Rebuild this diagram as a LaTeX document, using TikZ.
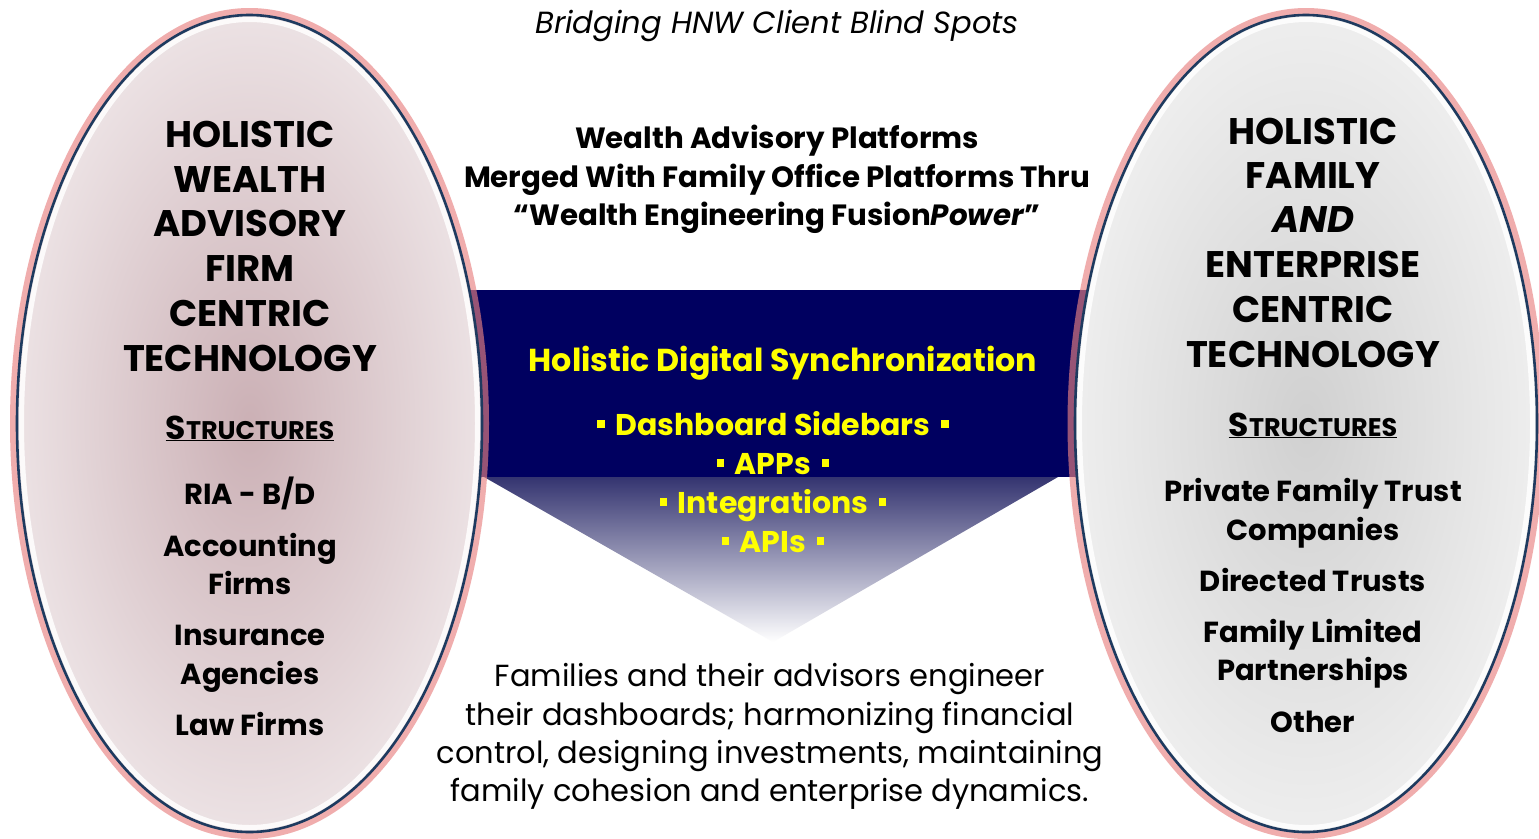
\documentclass[tikz,border=0pt]{standalone}
\usepackage{fontspec}
\setmainfont{Poppins}
\definecolor{bandnavy}{RGB}{0,0,96}
\definecolor{tritop}{RGB}{52,52,112}
\definecolor{rimblue}{RGB}{30,58,95}
\definecolor{glowpink}{RGB}{232,130,130}
\definecolor{pinkin}{RGB}{203,176,181}
\definecolor{pinkout}{RGB}{236,226,228}
\definecolor{grayin}{RGB}{208,208,208}
\definecolor{grayout}{RGB}{238,238,238}
\definecolor{syellow}{RGB}{255,255,0}
\newcommand{\sqb}{\raisebox{0.24em}{\rule{0.25em}{0.25em}}}
\newcommand{\fakesc}[1]{{\fontsize{33}{33}\selectfont S}{\fontsize{25.5}{25.5}\selectfont #1}}
\tikzset{
  txt/.style={inner sep=0pt, anchor=base, align=center},
  head/.style={txt, font=\fontsize{37}{37}\selectfont\bfseries},
  item/.style={txt, font=\fontsize{29}{29}\selectfont\bfseries},
  mid/.style={txt, font=\fontsize{29.3}{29.3}\selectfont\bfseries},
  ylw/.style={txt, text=syellow, font=\fontsize{30}{30}\selectfont\bfseries},
  body/.style={txt, font=\fontsize{30.5}{30.5}\selectfont},
  glowline/.style={draw=glowpink, line width=7pt, opacity=0.65},
  rimline/.style={draw=white, line width=5pt, opacity=0.85},
  outline/.style={draw=rimblue, line width=2.6pt}
}
\begin{document}
\begin{tikzpicture}[x=1pt,y=-1pt]
\useasboundingbox[fill=white] (0,0) rectangle (1539,838);
% central band and triangle
\fill[bandnavy] (465,290) rectangle (1090,477);
\shade[top color=tritop, bottom color=white] (484,477) -- (1058,477) -- (773,642) -- cycle;
% left ellipse
\coordinate (LC) at (249.5,423.5);
\draw[glowline] (LC) ellipse [x radius=236pt, y radius=412pt];
\shade[inner color=pinkin, outer color=pinkout] (LC) ellipse [x radius=232.5pt, y radius=408.5pt];
\draw[rimline] (LC) ellipse [x radius=228pt, y radius=404pt];
\draw[outline] (LC) ellipse [x radius=232.5pt, y radius=408.5pt];
% right ellipse
\coordinate (RC) at (1306,423.5);
\draw[glowline] (RC) ellipse [x radius=235pt, y radius=412pt];
\shade[inner color=grayin, outer color=grayout] (RC) ellipse [x radius=231pt, y radius=408.5pt];
\draw[rimline] (RC) ellipse [x radius=226.5pt, y radius=404pt];
\draw[outline] (RC) ellipse [x radius=231pt, y radius=408.5pt];
% title
\node[txt, font=\fontsize{30.6}{30.6}\selectfont\itshape] (title) at (777,33) {Bridging HNW Client Blind Spots};
% left texts
\foreach \t/\y [count=\i] in {HOLISTIC/147,WEALTH/192,ADVISORY/236,FIRM/281,CENTRIC/326,TECHNOLOGY/371}
  \node[head, name=lh\i] at (250,\y) {\t};
\node[item, font=\bfseries] (ls) at (250,439) {\underline{\fakesc{TRUCTURES}}};
\node[item] (li0) at (250,504) {RIA - B/D};
\foreach \t/\y [count=\i] in {Accounting/556,Firms/594,Insurance/645,Agencies/684,Law Firms/735}
  \node[item, name=li\i] at (250,\y) {\t};
% right texts
\foreach \t/\y [count=\i] in {HOLISTIC/144,FAMILY/188,{\itshape AND}/232,ENTERPRISE/277,CENTRIC/322,TECHNOLOGY/367}
  \node[head, name=rh\i] at (1313,\y) {\t};
\node[item, font=\bfseries] (rs) at (1313,436) {\underline{\fakesc{TRUCTURES}}};
\foreach \t/\y [count=\i] in {Private Family Trust/501,Companies/540,Directed Trusts/591,Family Limited/642,Partnerships/680,Other/732}
  \node[item, name=ri\i] at (1313,\y) {\t};
% middle texts
\node[mid] (m1) at (777,148) {Wealth Advisory Platforms};
\node[mid] (m2) at (777,187) {Merged With Family Office Platforms Thru};
\node[mid] (m3) at (777,225) {“Wealth Engineering Fusion\textit{Power}”};
\node[ylw, font=\fontsize{31.7}{31.7}\selectfont\bfseries] (y0) at (783,371) {Holistic Digital Synchronization};
\node[ylw] (y1) at (773,435) {\sqb\hspace{0.35em}Dashboard Sidebars\hspace{0.35em}\sqb};
\node[ylw] (y2) at (773,474) {\sqb\hspace{0.35em}APPs\hspace{0.35em}\sqb};
\node[ylw] (y3) at (773,513) {\sqb\hspace{0.35em}Integrations\hspace{0.35em}\sqb};
\node[ylw] (y4) at (773,552) {\sqb\hspace{0.35em}APIs\hspace{0.35em}\sqb};
\node[body] (b1) at (770,686) {Families and their advisors engineer};
\node[body] (b2) at (770,725) {their dashboards; harmonizing financial};
\node[body] (b3) at (770,763) {control, designing investments, maintaining};
\node[body] (b4) at (770,801) {family cohesion and enterprise dynamics.};
\end{tikzpicture}
\end{document}
